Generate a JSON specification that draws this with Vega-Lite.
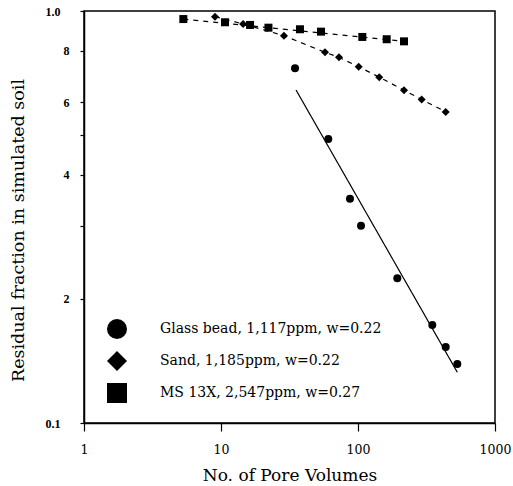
{
  "$schema": "https://vega.github.io/schema/vega-lite/v6.json",
  "width": 411,
  "height": 412,
  "autosize": "none",
  "padding": {"left": 84, "top": 11, "right": 18, "bottom": 63},
  "background": "white",
  "config": {
    "view": {"stroke": "black", "strokeWidth": 1.5},
    "font": "Liberation Serif"
  },
  "datasets": {
    "points": [
      {"series": "Glass bead, 1,117ppm, w=0.22", "x": 34.7, "y": 0.726},
      {"series": "Glass bead, 1,117ppm, w=0.22", "x": 60.7, "y": 0.489},
      {"series": "Glass bead, 1,117ppm, w=0.22", "x": 87.4, "y": 0.350},
      {"series": "Glass bead, 1,117ppm, w=0.22", "x": 105.2, "y": 0.301},
      {"series": "Glass bead, 1,117ppm, w=0.22", "x": 193.6, "y": 0.2245},
      {"series": "Glass bead, 1,117ppm, w=0.22", "x": 348.6, "y": 0.173},
      {"series": "Glass bead, 1,117ppm, w=0.22", "x": 436.6, "y": 0.153},
      {"series": "Glass bead, 1,117ppm, w=0.22", "x": 530.8, "y": 0.139},
      {"series": "Sand, 1,185ppm, w=0.22", "x": 9.04, "y": 0.969},
      {"series": "Sand, 1,185ppm, w=0.22", "x": 14.5, "y": 0.930},
      {"series": "Sand, 1,185ppm, w=0.22", "x": 28.8, "y": 0.871},
      {"series": "Sand, 1,185ppm, w=0.22", "x": 57.4, "y": 0.794},
      {"series": "Sand, 1,185ppm, w=0.22", "x": 72.7, "y": 0.772},
      {"series": "Sand, 1,185ppm, w=0.22", "x": 101.2, "y": 0.732},
      {"series": "Sand, 1,185ppm, w=0.22", "x": 143, "y": 0.691},
      {"series": "Sand, 1,185ppm, w=0.22", "x": 216.7, "y": 0.642},
      {"series": "Sand, 1,185ppm, w=0.22", "x": 291.7, "y": 0.610},
      {"series": "Sand, 1,185ppm, w=0.22", "x": 436.6, "y": 0.569},
      {"series": "MS 13X, 2,547ppm, w=0.27", "x": 5.31, "y": 0.956},
      {"series": "MS 13X, 2,547ppm, w=0.27", "x": 10.7, "y": 0.939},
      {"series": "MS 13X, 2,547ppm, w=0.27", "x": 16.3, "y": 0.925},
      {"series": "MS 13X, 2,547ppm, w=0.27", "x": 22.2, "y": 0.911},
      {"series": "MS 13X, 2,547ppm, w=0.27", "x": 37.7, "y": 0.903},
      {"series": "MS 13X, 2,547ppm, w=0.27", "x": 53.7, "y": 0.891},
      {"series": "MS 13X, 2,547ppm, w=0.27", "x": 107.5, "y": 0.865},
      {"series": "MS 13X, 2,547ppm, w=0.27", "x": 162, "y": 0.854},
      {"series": "MS 13X, 2,547ppm, w=0.27", "x": 216.7, "y": 0.844}
    ],
    "fits": [
      {"fit": "glass", "style": "solid", "x": 35.3, "y": 0.643},
      {"fit": "glass", "style": "solid", "x": 530.8, "y": 0.1328},
      {"fit": "sand", "style": "dashed", "x": 9.04, "y": 0.969},
      {"fit": "sand", "style": "dashed", "x": 14.5, "y": 0.930},
      {"fit": "sand", "style": "dashed", "x": 28.8, "y": 0.871},
      {"fit": "sand", "style": "dashed", "x": 57.4, "y": 0.794},
      {"fit": "sand", "style": "dashed", "x": 72.7, "y": 0.772},
      {"fit": "sand", "style": "dashed", "x": 101.2, "y": 0.732},
      {"fit": "sand", "style": "dashed", "x": 143, "y": 0.691},
      {"fit": "sand", "style": "dashed", "x": 216.7, "y": 0.642},
      {"fit": "sand", "style": "dashed", "x": 291.7, "y": 0.610},
      {"fit": "sand", "style": "dashed", "x": 436.6, "y": 0.569},
      {"fit": "ms", "style": "dashed", "x": 5.31, "y": 0.956},
      {"fit": "ms", "style": "dashed", "x": 216.7, "y": 0.844}
    ]
  },
  "encoding": {
    "x": {
      "field": "x", "type": "quantitative",
      "scale": {"type": "log", "domain": [1, 1000]},
      "axis": {
        "title": "No. of Pore Volumes",
        "values": [1, 10, 100, 1000],
        "format": "d",
        "grid": false,
        "labelFlush": false,
        "domainColor": "black", "domainWidth": 1.5,
        "tickColor": "black", "tickSize": 8, "tickWidth": 1.2,
        "labelFont": "DejaVu Serif", "labelFontSize": 12.5, "labelColor": "black",
        "labelPadding": 12,
        "titleFont": "DejaVu Serif", "titleFontSize": 17, "titleFontWeight": "normal",
        "titleColor": "black", "titlePadding": 12
      }
    },
    "y": {
      "field": "y", "type": "quantitative",
      "scale": {"type": "log", "domain": [0.1, 1]},
      "axis": {
        "title": "Residual fraction in simulated soil",
        "values": [0.1, 0.2, 0.3, 0.4, 0.5, 0.6, 0.8, 1],
        "labelExpr": "datum.value > 0.95 ? '1.0' : (datum.value < 0.15 ? '0.1' : ((datum.value > 0.29 && datum.value < 0.31) || (datum.value > 0.49 && datum.value < 0.51) ? '' : format(datum.value * 10, 'd')))",
        "grid": false,
        "labelFlush": false,
        "domainColor": "black", "domainWidth": 1.5,
        "tickColor": "black", "tickSize": 4, "tickWidth": 1.2,
        "labelFont": "Liberation Serif", "labelFontSize": 12, "labelFontWeight": "bold", "labelColor": "black",
        "labelPadding": {"condition": {"test": "datum.value > 0.95 || datum.value < 0.15", "value": 20}, "value": 11},
        "titleFont": "DejaVu Serif", "titleFontSize": 17.5, "titleFontWeight": "normal",
        "titleColor": "black", "titlePadding": 18, "titleY": 219
      }
    }
  },
  "layer": [
    {
      "data": {"name": "fits"},
      "mark": {"type": "line", "color": "black", "strokeWidth": 1.2},
      "encoding": {
        "detail": {"field": "fit"},
        "strokeDash": {
          "field": "style", "type": "nominal",
          "scale": {"domain": ["solid", "dashed"], "range": [[1, 0], [5, 5]]},
          "legend": null
        }
      }
    },
    {
      "data": {"name": "points"},
      "mark": {"type": "point", "filled": true, "color": "black", "opacity": 1, "size": 64},
      "encoding": {
        "shape": {
          "field": "series", "type": "nominal",
          "scale": {
            "domain": ["Glass bead, 1,117ppm, w=0.22", "Sand, 1,185ppm, w=0.22", "MS 13X, 2,547ppm, w=0.27"],
            "range": ["circle", "diamond", "square"]
          },
          "legend": {
            "title": null,
            "orient": "none",
            "legendX": 22,
            "legendY": 307,
            "padding": 0,
            "symbolSize": 400,
            "symbolFillColor": "black",
            "symbolStrokeColor": "black",
            "symbolType": "circle",
            "labelFont": "DejaVu Serif",
            "labelFontSize": 14,
            "labelColor": "black",
            "labelOffset": 32,
            "rowPadding": 6,
            "labelLimit": 400
          }
        }
      }
    }
  ]
}
